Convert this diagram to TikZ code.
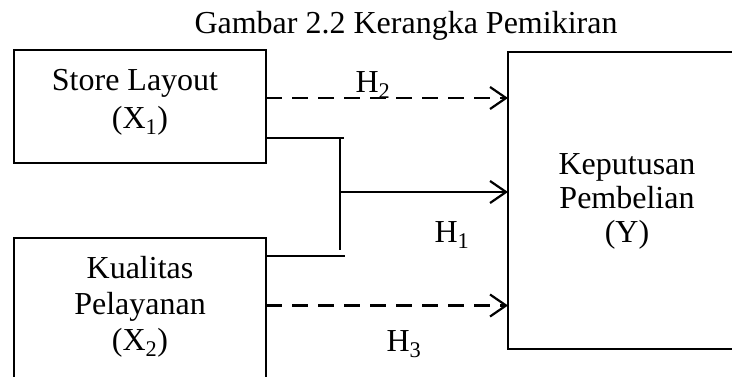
\documentclass[tikz,border=0pt]{standalone}
\usepackage{fontspec}
\setmainfont{Liberation Serif}
\usetikzlibrary{arrows.meta}
\begin{document}
\begin{tikzpicture}[x=1pt,y=-1pt,
  every node/.style={font=\fontsize{32}{36}\selectfont, inner sep=0pt, outer sep=0pt},
  boxnode/.style={draw, line width=2.2pt, rectangle},
  conn/.style={line width=2.2pt},
  dashconn/.style={conn, dash pattern=on 16pt off 10pt, -{Straight Barb[length=16pt,width=22pt,line width=2.2pt]}},
  solidarrow/.style={conn, -{Straight Barb[length=16pt,width=22pt,line width=2.2pt]}},
  lbl/.style={anchor=base, align=center}]
\useasboundingbox (0,0) rectangle (732,376);
\clip (0,0) rectangle (732,376);
% title
\node[anchor=base] (title) at (406,33) {Gambar 2.2 Kerangka Pemikiran};
% boxes
\node[boxnode, minimum width=252pt, minimum height=113pt] (x1) at (140,106.5) {};
\node[boxnode, minimum width=252pt, minimum height=182pt] (x2) at (140,329) {};
\node[boxnode, minimum width=252pt, minimum height=297pt] (yb) at (634,200.5) {};
% box texts
\node[lbl] (t1a) at (135,90) {Store Layout};
\node[lbl] (t1b) at (140,128) {(X\textsubscript{1})};
\node[lbl] (t2a) at (140,278) {Kualitas};
\node[lbl] (t2b) at (140,314) {Pelayanan};
\node[lbl] (t2c) at (140,350) {(X\textsubscript{2})};
\node[lbl] (tya) at (627,174) {Keputusan};
\node[lbl] (tyb) at (627,208) {Pembelian};
\node[lbl] (tyc) at (627,242) {(Y)};
% helper coordinates
\coordinate (h2y) at (0,98);
\coordinate (j1) at (340,138);
\coordinate (j1e) at (343.5,138);
\coordinate (j2) at (340,250);
\coordinate (j3e) at (345,256);
\coordinate (h1s) at (340,192);
\coordinate (h3y) at (0,305.5);
% connectors
\draw[dashconn] (x1.east |- h2y) -- (yb.west |- h2y);
\draw[conn] (x1.east |- j1) -- (j1e);
\draw[conn] (j1) -- (j2);
\draw[conn] (x2.east |- j3e) -- (j3e);
\draw[solidarrow] (h1s) -- (yb.west |- h1s);
\draw[dashconn] (x2.east |- h3y) -- (yb.west |- h3y);
% labels
\node[anchor=base] (h2) at (373,92) {H\textsubscript{2}};
\node[anchor=base] (h1) at (452,242) {H\textsubscript{1}};
\node[anchor=base] (h3) at (404,351) {H\textsubscript{3}};
\end{tikzpicture}
\end{document}
